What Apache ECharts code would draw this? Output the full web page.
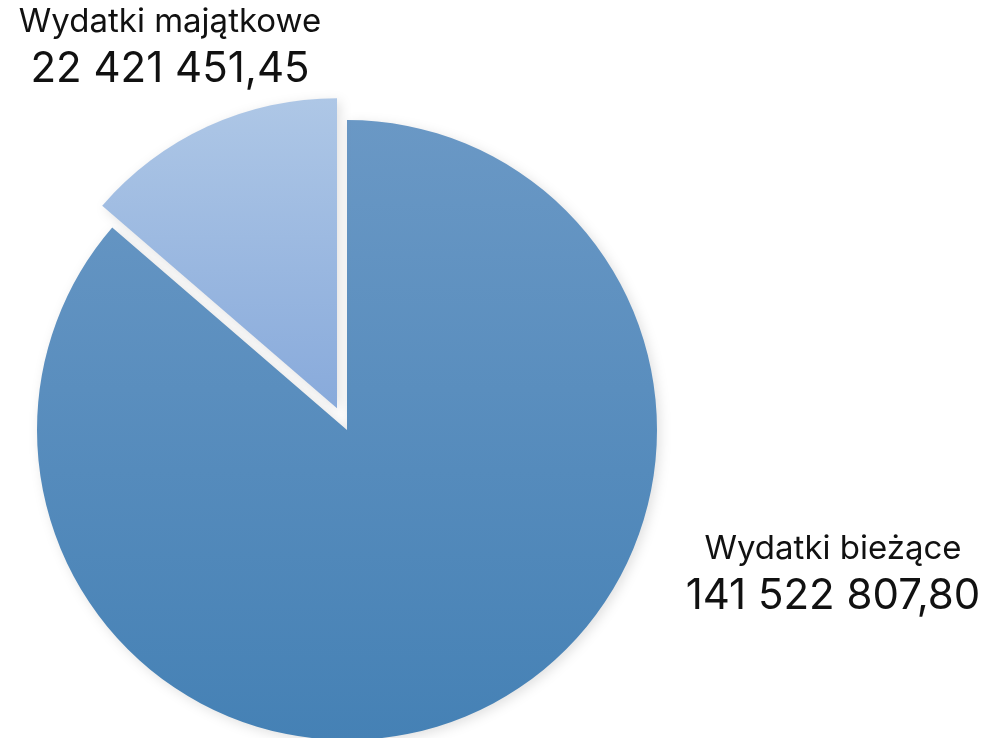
<!DOCTYPE html>
<html>
<head>
<meta charset="utf-8">
<style>
  html, body { margin: 0; padding: 0; background: #fff; }
  #chart { width: 984px; height: 738px; }
</style>
<script src="https://cdn.jsdelivr.net/npm/echarts@6/dist/echarts.min.js"></script>
</head>
<body>
<div id="chart"></div>
<script>
// dane z wykresu
const names = ['Wydatki bieżące', 'Wydatki majątkowe']
const values = [141522807.80, 22421451.45]
const valueLabels = ['141 522 807,80', '22 421 451,45']

const gradients = [
  ['#6a98c5', '#4581b5'],
  ['#aec7e6', '#88aadb']
]
const labelSpots = [
  { x: 833, y: 573 },
  { x: 170, y: 46 }
]

const chart = echarts.init(document.getElementById('chart'))

const cx = 347, cy = 430, R = 310, explode = 24
const total = values[0] + values[1]
// kierunek wysuniecia malego wycinka (srodek jego kata)
const mid = (90 + 180 * values[1] / total) * Math.PI / 180
const ox = cx + explode * Math.cos(mid)
const oy = cy - explode * Math.sin(mid)

// jedna seria na wycinek, drugi wycinek w serii jest przezroczysty
function makeSeries(idx, center) {
  return {
    type: 'pie',
    center: center,
    radius: R,
    startAngle: 90,
    clockwise: true,
    silent: true,
    emphasis: { disabled: true },
    labelLine: { show: false },
    label: {
      show: true,
      position: 'outside',
      overflow: 'none',
      edgeDistance: 0,
      color: '#111',
      formatter: p => '{n|' + p.name + '}\n{v|' + valueLabels[p.dataIndex] + '}',
      rich: {
        n: { fontSize: 33, lineHeight: 46, color: '#111', fontFamily: 'Inter' },
        v: { fontSize: 42, lineHeight: 48, color: '#111', fontFamily: 'Inter' }
      }
    },
    labelLayout: p => ({
      x: labelSpots[p.dataIndex].x,
      y: labelSpots[p.dataIndex].y,
      align: 'center',
      verticalAlign: 'middle',
      hideOverlap: false
    }),
    data: names.map((n, i) => i === idx ? {
      name: n,
      value: values[i],
      itemStyle: {
        color: new echarts.graphic.LinearGradient(0, 0, 0, 1, [
          { offset: 0, color: gradients[i][0] },
          { offset: 1, color: gradients[i][1] }
        ]),
        shadowBlur: 12,
        shadowOffsetX: 3,
        shadowOffsetY: 3,
        shadowColor: 'rgba(0,0,0,0.12)'
      }
    } : {
      name: n,
      value: values[i],
      itemStyle: { color: 'rgba(0,0,0,0)' },
      label: { show: false }
    })
  }
}

chart.setOption({
  animation: false,
  series: [
    makeSeries(0, [cx, cy]),
    makeSeries(1, [ox, oy])
  ]
})
</script>
</body>
</html>
